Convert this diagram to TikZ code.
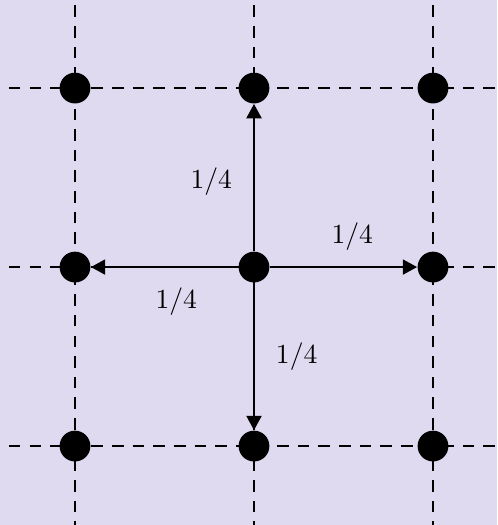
\documentclass[tikz,border=0pt]{standalone}
\usepackage{amsmath}
\usepackage{tikz}
\usetikzlibrary{arrows.meta}
\definecolor{lav}{RGB}{224,218,240}

\begin{document}
\begin{tikzpicture}[
  x=2.5cm, y=2.5cm, font=\fontsize{10.8}{13}\selectfont,
  dot/.style={circle, fill=black, inner sep=0pt, minimum size=4.3mm},
  grid/.style={line width=0.8pt, dash pattern=on 4.6pt off 3.6pt},
  pf/.style={line width=0.8pt, -{Triangle[length=2mm, width=2.1mm]}}
]
\useasboundingbox (-0.419,-0.441) rectangle (2.358,2.492);
\fill[lav] (-0.419,-0.441) rectangle (2.358,2.492);
\clip (-0.419,-0.441) rectangle (2.358,2.492);
% dashed lattice
\foreach \k in {0,1,2} {
  \draw[grid] (-0.6,\k) -- (2.6,\k);
  \draw[grid] (\k,-0.6) -- (\k,2.6);
}
% lattice sites
\foreach \i in {0,1,2} {
  \foreach \j in {0,1,2} {
    \node[dot] (s\i\j) at (\i,\j) {};
  }
}
% jumps from the centre
\draw[pf] (s11) -- node[pos=0.47, left=5pt] {$1/4$} (s12);
\draw[pf] (s11) -- node[pos=0.56, above=3pt] {$1/4$} (s21);
\draw[pf] (s11) -- node[pos=0.42, below=4.5pt] {$1/4$} (s01);
\draw[pf] (s11) -- node[midway, right=5pt] {$1/4$} (s10);
\end{tikzpicture}
\end{document}
